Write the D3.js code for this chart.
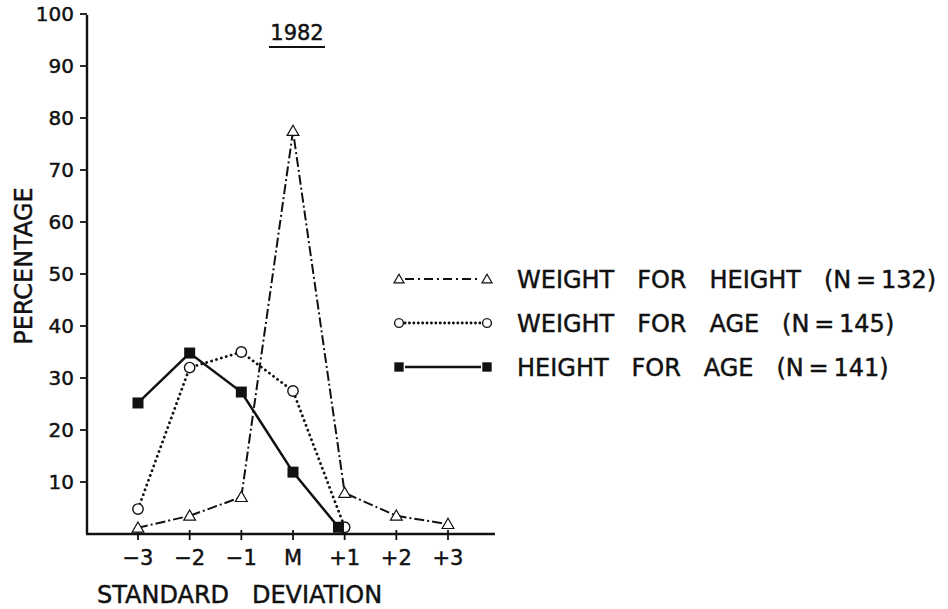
<!DOCTYPE html>
<html lang="en">
<head>
<meta charset="UTF-8">
<script src="https://cdnjs.cloudflare.com/ajax/libs/d3/7.8.5/d3.min.js"></script>
<style>
  body { margin: 0; background: #fff; }
  svg { display: block; font-family: "DejaVu Sans", "Liberation Sans", sans-serif; }
  .lbl { fill: #111; stroke: #111; stroke-width: 0.45px; }
</style>
</head>
<body>
<script>
// standard deviation positions (-3 .. +3, M = 0)
var sdPos = [-3, -2, -1, 0, 1, 2, 3];
var sdLabels = ["\u22123", "\u22122", "\u22121", "M", "+1", "+2", "+3"];
var yTicks = [10, 20, 30, 40, 50, 60, 70, 80, 90, 100];

// weight for height (N = 132)
var wfhX = [-3, -2, -1, 0, 1, 2, 3];
var wfhY = [1.2, 3.5, 7.1, 77.5, 7.9, 3.5, 1.9];
// weight for age (N = 145)
var wfaX = [-3, -2, -1, 0, 1];
var wfaY = [4.8, 32, 35, 27.5, 1.3];
// height for age (N = 141)
var hfaX = [-3, -2, -1, 0, 0.88];
var hfaY = [25.2, 34.8, 27.3, 11.9, 1.3];

var legendNames = ["WEIGHT   FOR   HEIGHT   (N\u2009=\u2009132)",
                   "WEIGHT   FOR   AGE   (N\u2009=\u2009145)",
                   "HEIGHT   FOR   AGE   (N\u2009=\u2009141)"];

var width = 948, height = 609;

var svg = d3.select("body").append("svg")
    .attr("width", width)
    .attr("height", height);

var x = d3.scaleLinear().domain([-3, 3]).range([138, 448]);
var y = d3.scaleLinear().domain([0, 100]).range([534, 14]);

var yAxisX = 87;

/* axes */
svg.append("line")
    .attr("x1", yAxisX).attr("x2", yAxisX)
    .attr("y1", y(0)).attr("y2", y(100) + 1)
    .attr("stroke", "#111").attr("stroke-width", 2.4);
svg.append("line")
    .attr("x1", yAxisX - 1).attr("x2", x(3) + 47)
    .attr("y1", y(0)).attr("y2", y(0))
    .attr("stroke", "#111").attr("stroke-width", 2.4);

// y ticks + labels
var yt = svg.append("g");
yt.selectAll("line").data(yTicks).enter().append("line")
    .attr("x1", yAxisX - 7).attr("x2", yAxisX)
    .attr("y1", function(d) { return y(d); })
    .attr("y2", function(d) { return y(d); })
    .attr("stroke", "#111").attr("stroke-width", 1.8);
yt.selectAll("text").data(yTicks).enter().append("text")
    .attr("class", "lbl")
    .attr("x", yAxisX - 13)
    .attr("y", function(d) { return y(d); })
    .attr("dy", "0.36em")
    .attr("text-anchor", "end")
    .attr("font-size", 20)
    .text(function(d) { return d; });

// x ticks + labels
var xt = svg.append("g");
xt.selectAll("line").data(sdPos).enter().append("line")
    .attr("x1", function(d) { return x(d); })
    .attr("x2", function(d) { return x(d); })
    .attr("y1", y(0) - 4).attr("y2", y(0) + 6)
    .attr("stroke", "#111").attr("stroke-width", 1.8);
xt.selectAll("text").data(sdPos).enter().append("text")
    .attr("class", "lbl")
    .attr("x", function(d) { return x(d); })
    .attr("y", y(0) + 31)
    .attr("text-anchor", "middle")
    .attr("font-size", 21)
    .text(function(d, i) { return sdLabels[i]; });

// axis titles
svg.append("text")
    .attr("class", "lbl")
    .attr("transform", "translate(32," + 266 + ") rotate(-90)")
    .attr("text-anchor", "middle")
    .attr("font-size", 24)
    .text("PERCENTAGE");
svg.append("text")
    .attr("class", "lbl")
    .attr("x", 97).attr("y", 603)
    .attr("font-size", 24)
    .style("white-space", "pre")
    .text("STANDARD   DEVIATION");

// title
svg.append("text")
    .attr("class", "lbl")
    .attr("x", 297).attr("y", 40)
    .attr("text-anchor", "middle")
    .attr("font-size", 21)
    .text("1982");
svg.append("line")
    .attr("x1", 269).attr("x2", 325)
    .attr("y1", 47).attr("y2", 47)
    .attr("stroke", "#111").attr("stroke-width", 2.2);

/* series */
var series = [
    { xs: wfhX, ys: wfhY, dash: "10 3 2 3", width: 2, cap: "butt", marker: "tri" },
    { xs: wfaX, ys: wfaY, dash: "0.1 5", width: 2.8, cap: "round", marker: "circ" },
    { xs: hfaX, ys: hfaY, dash: null, width: 2.5, cap: "butt", marker: "sq" }
];

var line = d3.line()
    .x(function(d) { return x(d[0]); })
    .y(function(d) { return y(d[1]); });

function drawMarker(g, kind, cx, cy, k) {
    if (kind == "tri") {
        g.append("path")
            .attr("d", d3.symbol().type(d3.symbolTriangle).size(60 * k * k)())
            .attr("transform", "translate(" + cx + "," + (cy + 1) + ")")
            .attr("fill", "#fff").attr("stroke", "#111").attr("stroke-width", 1.2);
    } else if (kind == "circ") {
        g.append("circle")
            .attr("cx", cx).attr("cy", cy).attr("r", 5.2 * k)
            .attr("fill", "#fff").attr("stroke", "#111").attr("stroke-width", 1.4);
    } else {
        g.append("rect")
            .attr("x", cx - 5.5 * k).attr("y", cy - 5.5 * k)
            .attr("width", 11 * k).attr("height", 11 * k)
            .attr("fill", "#111");
    }
}

series.forEach(function(s) {
    var pts = s.xs.map(function(v, i) { return [v, s.ys[i]]; });
    var p = svg.append("path")
        .datum(pts)
        .attr("d", line)
        .attr("fill", "none")
        .attr("stroke", "#111")
        .attr("stroke-width", s.width)
        .attr("stroke-linecap", s.cap);
    if (s.dash) p.attr("stroke-dasharray", s.dash);
});

series.forEach(function(s) {
    var g = svg.append("g");
    s.xs.forEach(function(v, i) {
        drawMarker(g, s.marker, x(v), y(s.ys[i]), 1);
    });
});

/* legend */
var legY = [279, 323, 367];
series.forEach(function(s, i) {
    var g = svg.append("g");
    var ly = legY[i];
    var l = g.append("line")
        .attr("x1", 405).attr("x2", 481)
        .attr("y1", ly).attr("y2", ly)
        .attr("stroke", "#111")
        .attr("stroke-width", s.width)
        .attr("stroke-linecap", s.cap);
    if (s.dash) l.attr("stroke-dasharray", s.marker == "tri" ? "9 4 2 4" : "0.1 4.3");
    [399, 487].forEach(function(cx) {
        drawMarker(g, s.marker, cx, ly, 0.85);
    });
    g.append("text")
        .attr("class", "lbl")
        .attr("x", 517).attr("y", ly)
        .attr("dy", "0.36em")
        .attr("font-size", 24)
        .style("white-space", "pre")
        .text(legendNames[i]);
});
</script>
</body>
</html>
